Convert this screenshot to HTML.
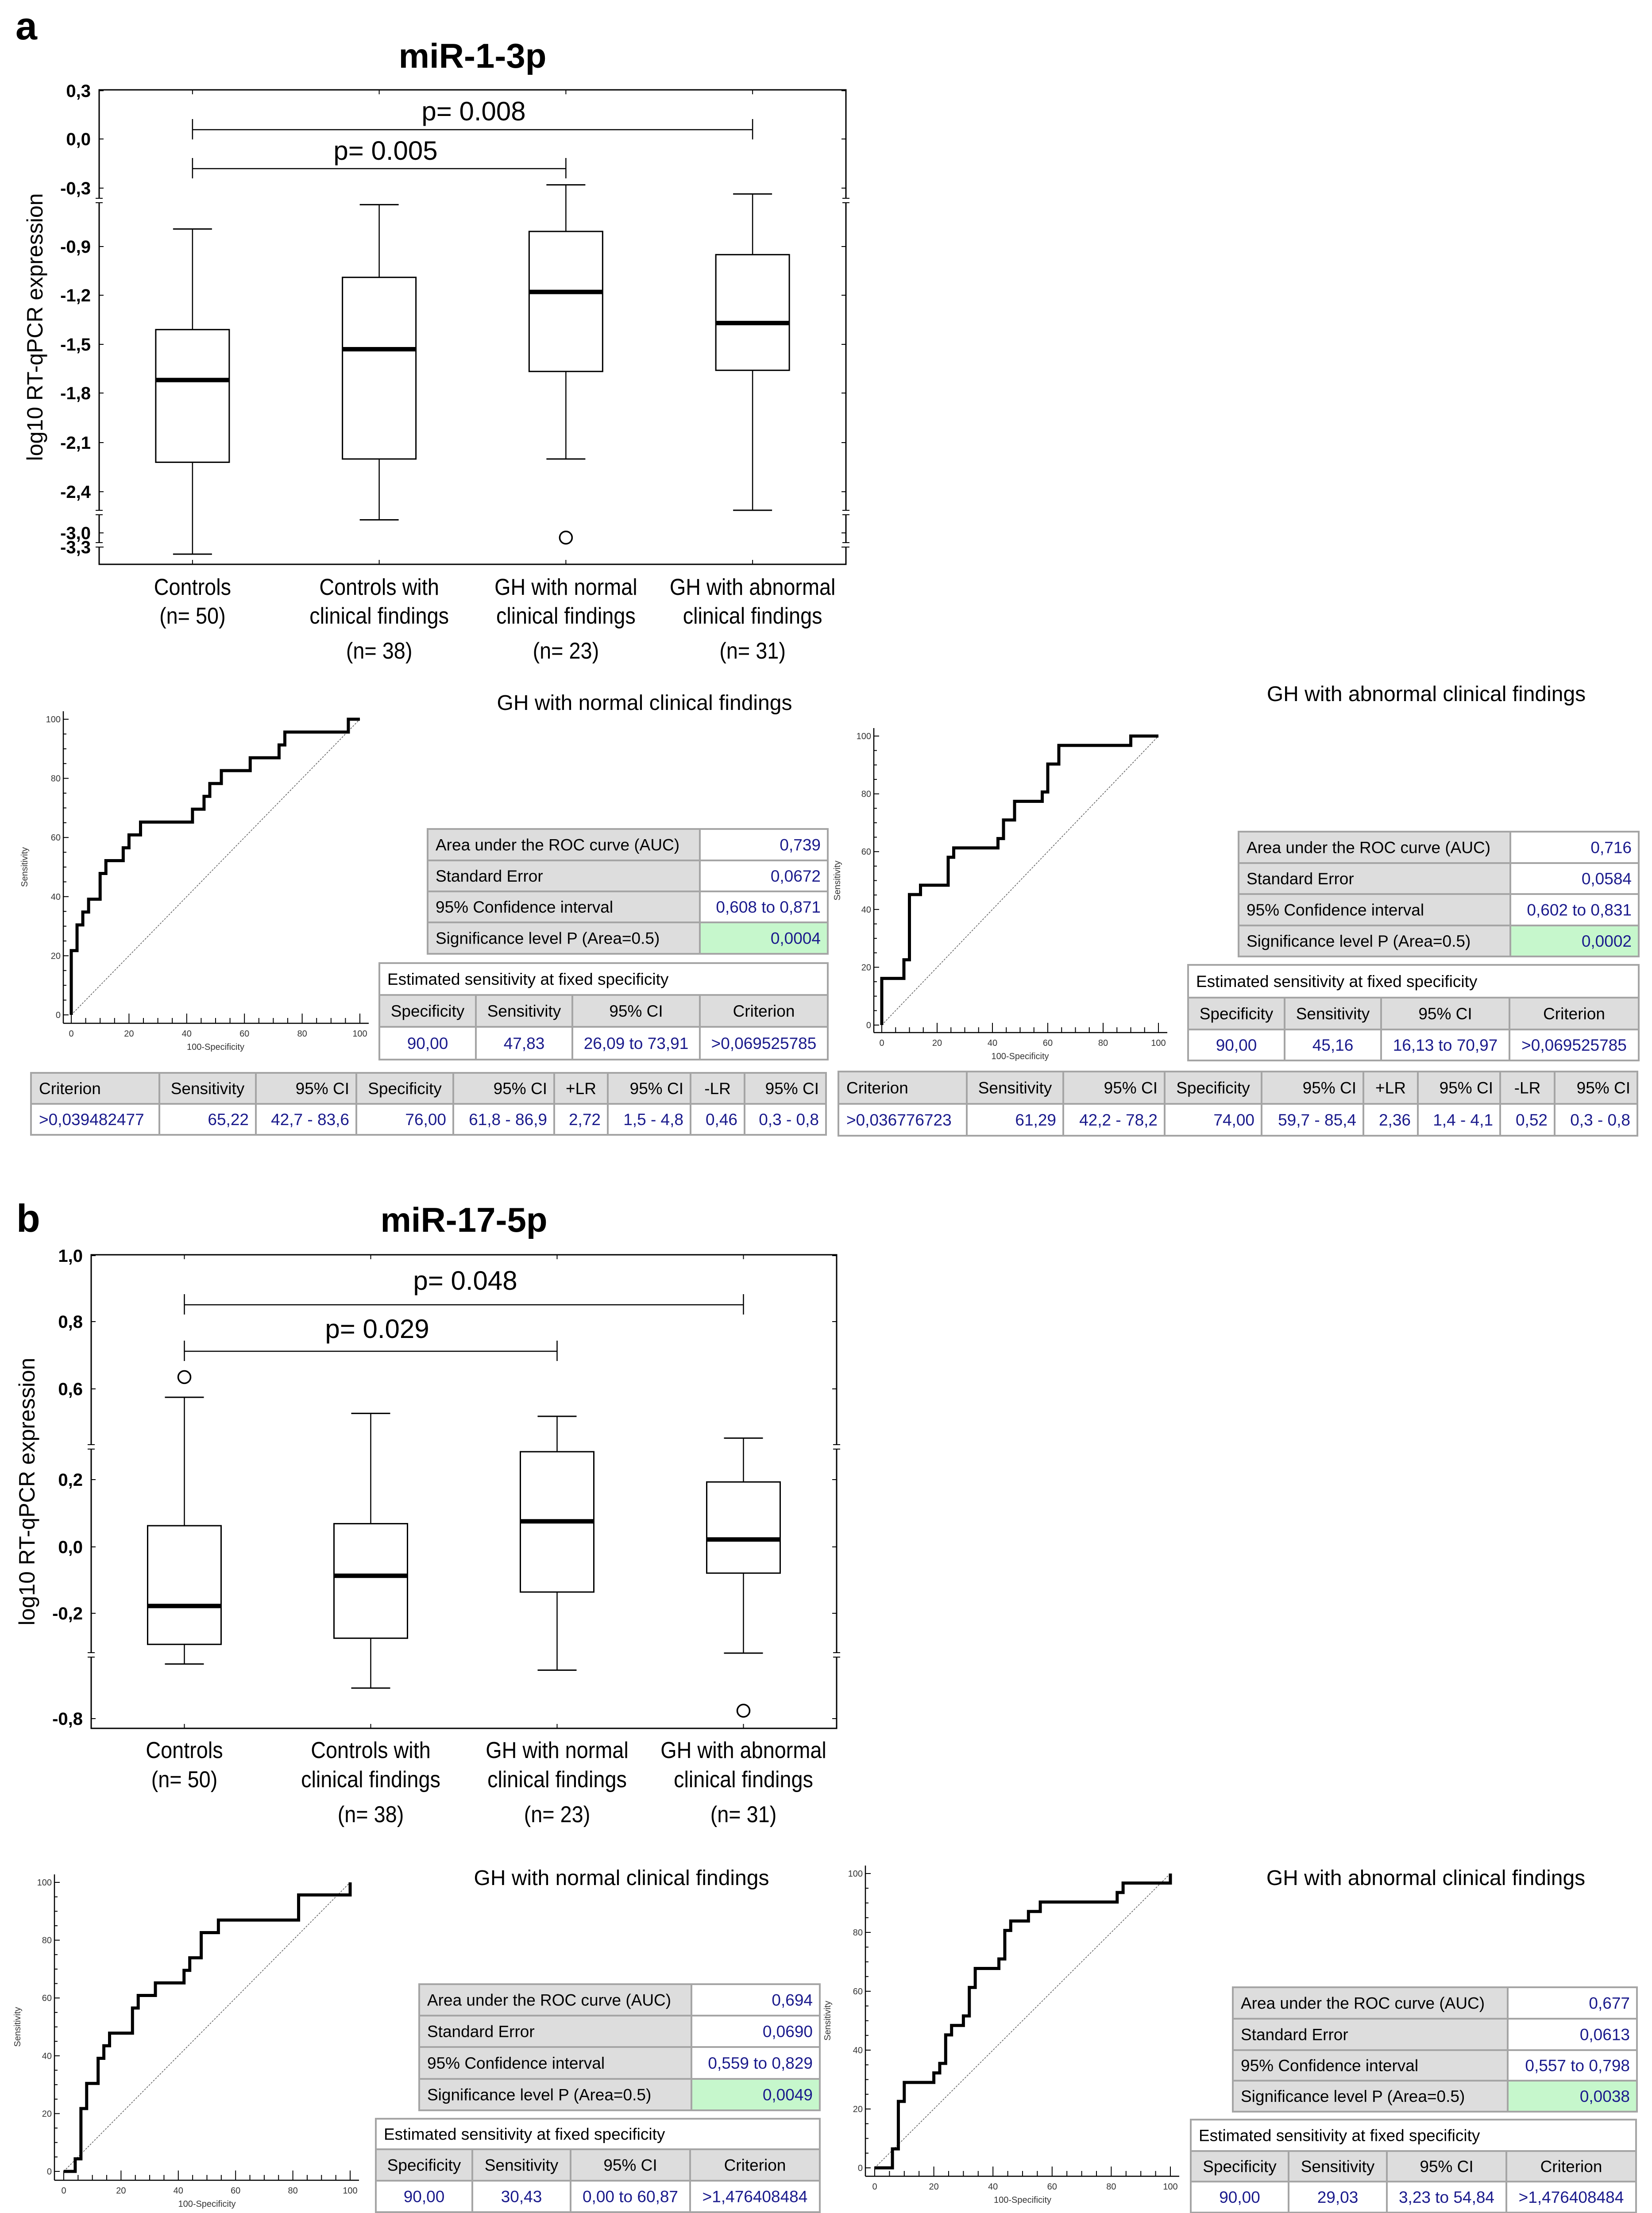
<!DOCTYPE html>
<html><head><meta charset="utf-8"><title>miRNA figure</title>
<style>
html,body{margin:0;padding:0;background:#fff;width:3732px;height:5190px;overflow:hidden;}
svg{display:block;font-family:"Liberation Sans",Arial,sans-serif;}
</style></head>
<body>
<svg id="fig" xmlns="http://www.w3.org/2000/svg" width="3732" height="5190" viewBox="0 0 3732 5190">
<rect x="0" y="0" width="3732" height="5190" fill="#fff"/>
</svg>
<script>
// ---------- Box plot data ----------
const boxCategories = [["Controls","(n= 50)"],["Controls with","clinical findings","(n= 38)"],["GH with normal","clinical findings","(n= 23)"],["GH with abnormal","clinical findings","(n= 31)"]];
const aTickValues = [0.3,0,-0.3,-0.9,-1.2,-1.5,-1.8,-2.1,-2.4,-3.0,-3.3];
const aTickLabels = ["0,3","0,0","-0,3","-0,9","-1,2","-1,5","-1,8","-2,1","-2,4","-3,0","-3,3"];
const aWhiskerHi = [-0.72,-0.47,-0.28,-0.36];
const aQ3 = [-1.41,-1.09,-0.745,-0.95];
const aMedian = [-1.72,-1.53,-1.18,-1.37];
const aQ1 = [-2.22,-2.20,-1.667,-1.66];
const aWhiskerLo = [-3.45,-2.81,-2.20,-2.67];
const aOutlierCat = [2];
const aOutlierVal = [-3.1];
const bTickValues = [1.0,0.8,0.6,0.2,0.0,-0.2,-0.8];
const bTickLabels = ["1,0","0,8","0,6","0,2","0,0","-0,2","-0,8"];
const bWhiskerHi = [0.563,0.492,0.479,0.383];
const bQ3 = [0.063,0.069,0.323,0.193];
const bMedian = [-0.178,-0.087,0.076,0.022];
const bQ1 = [-0.377,-0.342,-0.136,-0.079];
const bWhiskerLo = [-0.489,-0.626,-0.524,-0.427];
const bOutlierCat = [0,3];
const bOutlierVal = [0.635,-0.755];
// ---------- ROC data ----------
const rocA1Fpr = [0,0,2,4,6,10,12,18,20,24,42,46,48,52,62,72,74,96,100];
const rocA1Sens = [0,21.74,30.43,34.78,39.13,47.83,52.17,56.52,60.87,65.22,69.57,73.91,78.26,82.61,86.96,91.3,95.65,100,100];
const rocA2Fpr = [0,0,8,10,14,24,26,42,44,48,58,60,64,90,100];
const rocA2Sens = [0,16.13,22.58,45.16,48.39,58.06,61.29,64.52,70.97,77.42,80.65,90.32,96.77,100,100];
const rocB1Fpr = [0,4,6,8,12,14,16,24,26,32,42,44,48,54,82,100];
const rocB1Sens = [0,4.35,21.74,30.43,39.13,43.48,47.83,56.52,60.87,65.22,69.57,73.91,82.61,86.96,95.65,100];
const rocB2Fpr = [0,6,8,10,20,22,24,26,30,32,34,42,44,46,52,56,82,84,100];
const rocB2Sens = [0,6.45,22.58,29.03,32.26,35.48,45.16,48.39,51.61,61.29,67.74,70.97,80.65,83.87,87.1,90.32,93.55,96.77,100];
const rocTicks = [0,20,40,60,80,100];
// ---------- Table data ----------
const aucLabels = ["Area under the ROC curve (AUC)","Standard Error","95% Confidence interval","Significance level P (Area=0.5)"];
const aucA1 = ["0,739","0,0672","0,608 to 0,871","0,0004"];
const aucA2 = ["0,716","0,0584","0,602 to 0,831","0,0002"];
const aucB1 = ["0,694","0,0690","0,559 to 0,829","0,0049"];
const aucB2 = ["0,677","0,0613","0,557 to 0,798","0,0038"];
const estHeader = ["Specificity","Sensitivity","95% CI","Criterion"];
const estA1 = ["90,00","47,83","26,09 to 73,91",">0,069525785"];
const estA2 = ["90,00","45,16","16,13 to 70,97",">0,069525785"];
const estB1 = ["90,00","30,43","0,00 to 60,87",">1,476408484"];
const estB2 = ["90,00","29,03","3,23 to 54,84",">1,476408484"];
const critHeader = ["Criterion","Sensitivity","95% CI","Specificity","95% CI","+LR","95% CI","-LR","95% CI"];
const critA1 = [">0,039482477","65,22","42,7 - 83,6","76,00","61,8 - 86,9","2,72","1,5 - 4,8","0,46","0,3 - 0,8"];
const critA2 = [">0,036776723","61,29","42,2 - 78,2","74,00","59,7 - 85,4","2,36","1,4 - 4,1","0,52","0,3 - 0,8"];
const critB1 = [">1,087847827","60,87","38,5 - 80,3","74,00","59,7 - 85,4","2,34","1,3 - 4,1","0,53","0,3 - 0,9"];
const critB2 = [">0,800115026","83,87","66,3 - 94,5","54,00","39,3 - 68,2","1,82","1,3 - 2,6","0,30","0,1 - 0,7"];

const NS = "http://www.w3.org/2000/svg";
const svg = document.getElementById('fig');
function mk(tag, attrs, name) {
  const e = document.createElementNS(NS, tag);
  for (const k in attrs) e.setAttribute(k, attrs[k]);
  
  
  svg.appendChild(e);
  return e;
}
function line(x1,y1,x2,y2,w,name,extra){
  const a = {x1:x1,y1:y1,x2:x2,y2:y2,stroke:'#000','stroke-width':w};
  if(extra) for(const k in extra) a[k]=extra[k];
  return mk('line',a,name);
}
function text(x,y,s,size,name,opts){
  opts = opts||{};
  const a = {x:x,y:y,'font-size':size,fill:opts.fill||'#000','text-anchor':opts.anchor||'start'};
  if(opts.bold) a['font-weight']='bold';
  if(opts.transform) a.transform=opts.transform;
  const e = mk('text',a,name);
  e.textContent = s;
  if(opts.squeeze){
    const L = e.getComputedTextLength();
    e.setAttribute('textLength', L*opts.squeeze);
    e.setAttribute('lengthAdjust','spacingAndGlyphs');
  }
  if(opts.maxW){
    const L = e.getComputedTextLength();
    if(L>opts.maxW){ e.setAttribute('textLength', opts.maxW); e.setAttribute('lengthAdjust','spacingAndGlyphs'); }
  }
  return e;
}
function piece(v, vals, px){
  let i=0;
  for(i=0;i<vals.length-2;i++){ if(v>=vals[i+1]) break; }
  const t=(v-vals[i])/(vals[i+1]-vals[i]);
  return px[i]+t*(px[i+1]-px[i]);
}

function boxPlot(cfg){
  const L=cfg.left,R=cfg.right,T=cfg.top,B=cfg.bottom;
  const y = v => piece(v,cfg.tickValues,cfg.tickPx);
  const xc = i => L + (i+0.5)*(R-L)/cfg.cats.length;
  mk('rect',{x:L,y:T,width:R-L,height:B-T,fill:'none',stroke:'#000','stroke-width':3},cfg.id+'-plot-frame');
  text(cfg.letterX,cfg.letterY,cfg.letter,88,cfg.id+'-panel-letter',{bold:true});
  text((L+R)/2,cfg.titleY,cfg.title,78,cfg.id+'-chart-title',{bold:true,anchor:'middle'});
  cfg.tickValues.forEach((v,i)=>{
    const yy=y(v);
    text(L-19,yy+14,cfg.tickLabels[i],40,cfg.id+'-y-tick-label',{bold:true,anchor:'end'});
    line(L,yy,L+10,yy,2,cfg.id+'-y-tick');
    line(R-10,yy,R,yy,2,cfg.id+'-y-tick-right');
  });
  cfg.breaks.forEach(b=>{
    [L,R].forEach(xx=>{
      mk('rect',{x:xx-6,y:b-5,width:12,height:10,fill:'#fff'},cfg.id+'-axis-break-gap');
      line(xx-8,b-5,xx+8,b-5,2,cfg.id+'-axis-break');
      line(xx-8,b+5,xx+8,b+5,2,cfg.id+'-axis-break');
    });
  });
  text(cfg.ytitleX,(T+B)/2,'log10 RT-qPCR expression',50,cfg.id+'-y-axis-title',{anchor:'middle',transform:'rotate(-90 '+cfg.ytitleX+' '+((T+B)/2)+')'});
  const hw=83, cw=44;
  cfg.cats.forEach((c,i)=>{
    const x=xc(i);
    line(x,B,x,B-10,2,cfg.id+'-x-tick');
    line(x,T,x,T+10,2,cfg.id+'-x-tick-top');
    line(x,y(cfg.hi[i]),x,y(cfg.q3[i]),2.5,cfg.id+'-whisker-upper');
    line(x,y(cfg.q1[i]),x,y(cfg.lo[i]),2.5,cfg.id+'-whisker-lower');
    line(x-cw,y(cfg.hi[i]),x+cw,y(cfg.hi[i]),3,cfg.id+'-whisker-cap-upper');
    line(x-cw,y(cfg.lo[i]),x+cw,y(cfg.lo[i]),3,cfg.id+'-whisker-cap-lower');
    mk('rect',{x:x-hw,y:y(cfg.q3[i]),width:2*hw,height:y(cfg.q1[i])-y(cfg.q3[i]),fill:'#fff',stroke:'#000','stroke-width':3},cfg.id+'-box-'+i);
    line(x-hw,y(cfg.med[i]),x+hw,y(cfg.med[i]),10,cfg.id+'-median-'+i);
    c.forEach((s,j)=>{
      text(x,cfg.labelY[j],s,52,cfg.id+'-category-label',{anchor:'middle',squeeze:0.9});
    });
  });
  cfg.outCat.forEach((ci,k)=>{
    mk('circle',{cx:xc(ci),cy:y(cfg.outVal[k]),r:14,fill:'#fff',stroke:'#000','stroke-width':3.5},cfg.id+'-outlier');
  });
  cfg.brackets.forEach(bk=>{
    const x1=xc(bk.from), x2=xc(bk.to);
    line(x1,bk.y,x2,bk.y,2.5,cfg.id+'-significance-bracket');
    line(x1,bk.y-24,x1,bk.y+22,2.5,cfg.id+'-bracket-end');
    line(x2,bk.y-24,x2,bk.y+22,2.5,cfg.id+'-bracket-end');
    text(bk.tx,bk.ty,bk.label,60,cfg.id+'-p-value',{anchor:'middle'});
  });
}

boxPlot({id:'mir1',letter:'a',letterX:35,letterY:89,title:'miR-1-3p',titleY:153,
  left:224,right:1911,top:203,bottom:1275,
  tickValues:aTickValues,tickLabels:aTickLabels,tickPx:[205,314,425,557,667,778,888,1000,1111,1204,1236],
  breaks:[453,1158,1231],ytitleX:96,
  cats:boxCategories,hi:aWhiskerHi,q3:aQ3,med:aMedian,q1:aQ1,lo:aWhiskerLo,outCat:aOutlierCat,outVal:aOutlierVal,
  labelY:[1344,1409,1488],
  brackets:[{from:0,to:3,y:293,label:'p= 0.008',tx:1070,ty:272},{from:0,to:2,y:381,label:'p= 0.005',tx:871,ty:361}]});

boxPlot({id:'mir17',letter:'b',letterX:37,letterY:2783,title:'miR-17-5p',titleY:2783,
  left:206,right:1890,top:2835,bottom:3905,
  tickValues:bTickValues,tickLabels:bTickLabels,tickPx:[2837,2986,3138,3343,3495,3645,3883],
  breaks:[3269,3739],ytitleX:78,
  cats:boxCategories,hi:bWhiskerHi,q3:bQ3,med:bMedian,q1:bQ1,lo:bWhiskerLo,outCat:bOutlierCat,outVal:bOutlierVal,
  labelY:[3972,4038,4117],
  brackets:[{from:0,to:3,y:2948,label:'p= 0.048',tx:1051,ty:2914},{from:0,to:2,y:3053,label:'p= 0.029',tx:852,ty:3023}]});

function roc(cfg){
  const x = v => cfg.x0 + v/100*(cfg.x100-cfg.x0);
  const y = v => cfg.y0 + v/100*(cfg.y100-cfg.y0);
  line(cfg.ax,cfg.y100-18,cfg.ax,cfg.axY,2.5,cfg.id+'-y-axis');
  line(cfg.ax,cfg.axY,x(100)+20,cfg.axY,2.5,cfg.id+'-x-axis');
  for(let v=0;v<=100;v+=5){
    const major = v%20===0;
    line(x(v),cfg.axY,x(v),cfg.axY-(major?22:12),2,cfg.id+'-x-tick');
    line(cfg.ax,y(v),cfg.ax+(major?12:7),y(v),2,cfg.id+'-y-tick');
  }
  rocTicks.forEach(v=>{
    text(x(v),cfg.axY+30,String(v),20,cfg.id+'-x-tick-label',{anchor:'middle',fill:'#333'});
    text(cfg.ax-6,y(v)+7,String(v),20,cfg.id+'-y-tick-label',{anchor:'end',fill:'#333'});
  });
  text((x(0)+x(100))/2,cfg.axY+60,'100-Specificity',20,cfg.id+'-x-axis-title',{anchor:'middle',fill:'#333'});
  const sy=(cfg.y0+cfg.y100)/2;
  text(cfg.slx,sy,'Sensitivity',20,cfg.id+'-y-axis-title',{anchor:'middle',fill:'#333',transform:'rotate(-90 '+cfg.slx+' '+sy+')'});
  line(x(0),y(0),x(100),y(100),1.5,cfg.id+'-reference-diagonal',{stroke:'#555','stroke-dasharray':'4 3'});
  let d='M'+x(cfg.fpr[0])+' '+y(cfg.sens[0]);
  for(let i=1;i<cfg.fpr.length;i++){
    d+=' L'+x(cfg.fpr[i])+' '+y(cfg.sens[i-1])+' L'+x(cfg.fpr[i])+' '+y(cfg.sens[i]);
  }
  mk('path',{d:d,fill:'none',stroke:'#000','stroke-width':7,'stroke-linejoin':'miter'},cfg.id+'-roc-curve');
  text(cfg.titleX,cfg.titleY,cfg.title,48,cfg.id+'-roc-title',{anchor:'middle'});
}
const NAVY='#1a1a8c', GREY='#dddddd', BORDER='#a5a5a5', GREEN='#c6f7cc';
function cell(x,yTop,w,h,bg,s,align,color,name){
  mk('rect',{x:x,y:yTop,width:w,height:h,fill:bg,stroke:BORDER,'stroke-width':4},name+'-cell');
  let tx = align==='start'? x+18 : align==='end'? x+w-16 : x+w/2;
  text(tx,yTop+h/2+13,s,37,name,{anchor:align,fill:color,maxW:w-24});
}
function tables(cfg){
  const A=cfg.auc;
  for(let r=0;r<4;r++){
    const yT=A.ys[r], h=A.ys[r+1]-A.ys[r];
    cell(A.x0,yT,A.xs-A.x0,h,GREY,aucLabels[r],'start','#000',cfg.id+'-auc-label');
    cell(A.xs,yT,A.x1-A.xs,h,r===3?GREEN:'#fff',cfg.aucVals[r],'end',NAVY,cfg.id+'-auc-value');
  }
  const E=cfg.est;
  cell(E.xs[0],E.ys[0],E.xs[4]-E.xs[0],E.ys[1]-E.ys[0],'#fff','Estimated sensitivity at fixed specificity','start','#000',cfg.id+'-est-title');
  for(let c=0;c<4;c++){
    cell(E.xs[c],E.ys[1],E.xs[c+1]-E.xs[c],E.ys[2]-E.ys[1],GREY,estHeader[c],'middle','#000',cfg.id+'-est-header');
    cell(E.xs[c],E.ys[2],E.xs[c+1]-E.xs[c],E.ys[3]-E.ys[2],'#fff',cfg.estVals[c],'middle',NAVY,cfg.id+'-est-value');
  }
  const C=cfg.crit;
  const hAlign=['start','middle','end','middle','end','middle','end','middle','end'];
  const dAlign=['start','end','end','end','end','end','end','end','end'];
  for(let c=0;c<9;c++){
    cell(C.xs[c],C.ys[0],C.xs[c+1]-C.xs[c],C.ys[1]-C.ys[0],GREY,critHeader[c],hAlign[c],'#000',cfg.id+'-criterion-header');
    cell(C.xs[c],C.ys[1],C.xs[c+1]-C.xs[c],C.ys[2]-C.ys[1],'#fff',cfg.critVals[c],dAlign[c],NAVY,cfg.id+'-criterion-value');
  }
}

roc({id:'roc-a-normal',x0:161,x100:813,y0:2293,y100:1625,ax:143,axY:2312,slx:62,fpr:rocA1Fpr,sens:rocA1Sens,title:'GH with normal clinical findings',titleX:1456,titleY:1604});
roc({id:'roc-a-abnormal',x0:1992,x100:2617,y0:2316,y100:1663,ax:1974,axY:2333,slx:1898,fpr:rocA2Fpr,sens:rocA2Sens,title:'GH with abnormal clinical findings',titleX:3222,titleY:1584});
roc({id:'roc-b-normal',x0:144,x100:791,y0:4906,y100:4253,ax:123,axY:4926,slx:46,fpr:rocB1Fpr,sens:rocB1Sens,title:'GH with normal clinical findings',titleX:1404,titleY:4259});
roc({id:'roc-b-abnormal',x0:1976,x100:2644,y0:4898,y100:4233,ax:1955,axY:4917,slx:1876,fpr:rocB2Fpr,sens:rocB2Sens,title:'GH with abnormal clinical findings',titleX:3221,titleY:4259});

tables({id:'tbl-a-normal',aucVals:aucA1,estVals:estA1,critVals:critA1,
  auc:{x0:966,xs:1581,x1:1870,ys:[1873,1944,2014,2084,2155]},
  est:{xs:[857,1075,1293,1581,1870],ys:[2176,2248,2320,2394]},
  crit:{xs:[70,360,578,805,1024,1252,1373,1560,1682,1866],ys:[2424,2494,2564]}});
tables({id:'tbl-a-abnormal',aucVals:aucA2,estVals:estA2,critVals:critA2,
  auc:{x0:2798,xs:3412,x1:3702,ys:[1879,1950,2020,2091,2161]},
  est:{xs:[2684,2902,3120,3410,3702],ys:[2180,2254,2326,2396]},
  crit:{xs:[1894,2184,2402,2631,2850,3080,3203,3389,3512,3699],ys:[2421,2494,2566]}});
tables({id:'tbl-b-normal',aucVals:aucB1,estVals:estB1,critVals:critB1,
  auc:{x0:947,xs:1562,x1:1852,ys:[4483,4554,4625,4697,4768]},
  est:{xs:[849,1067,1289,1559,1852],ys:[4787,4856,4927,4998]},
  crit:{xs:[38,330,549,779,998,1227,1349,1538,1661,1846],ys:[5014,5085,5155]}});
tables({id:'tbl-b-abnormal',aucVals:aucB2,estVals:estB2,critVals:critB2,
  auc:{x0:2785,xs:3406,x1:3698,ys:[4490,4561,4632,4701,4771]},
  est:{xs:[2690,2911,3133,3403,3696],ys:[4789,4860,4929,4999]},
  crit:{xs:[1877,2167,2389,2619,2839,3069,3194,3380,3504,3693],ys:[5016,5085,5155]}});
</script>
</body></html>
